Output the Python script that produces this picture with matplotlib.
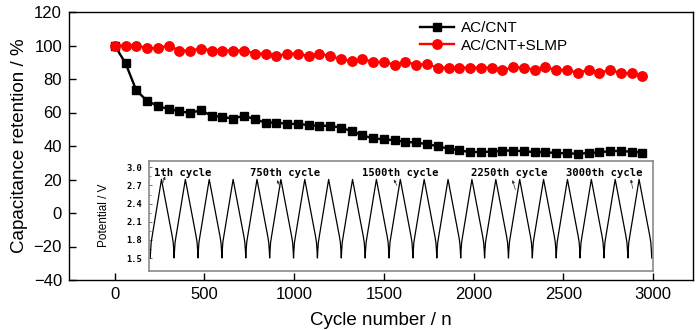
import matplotlib
matplotlib.use('Agg')
import matplotlib.pyplot as plt
import numpy as np

plt.rcParams['font.family'] = ['Liberation Sans', 'DejaVu Sans']

# ---------------- main data ----------------
cycles = list(range(0, 3000, 60))
ac_cnt = [100, 89.4, 73.2, 67.0, 63.9, 62.1, 60.7, 59.8, 61.3, 58.1,
          57.3, 56.4, 58.1, 56.0, 53.9, 54.0, 53.2, 53.2, 52.5, 51.9,
          52.2, 50.8, 49.0, 46.4, 44.5, 44.0, 43.5, 42.4, 42.1, 41.1,
          39.9, 38.4, 37.4, 36.4, 36.4, 36.6, 37.2, 37.3, 36.8, 36.4,
          36.3, 35.8, 35.6, 35.4, 35.8, 36.2, 37.0, 37.0, 36.6, 36.0]
ac_cnt_slmp = [100, 100, 100, 98.5, 98.3, 100, 97.0, 97.0, 98.2, 97.0,
               97.0, 97.0, 97.0, 95.2, 95.2, 93.6, 95.2, 95.2, 93.6, 95.2,
               93.6, 92.0, 90.6, 91.7, 90.4, 90.0, 88.6, 90.2, 88.6, 88.8,
               86.8, 86.8, 86.8, 86.8, 86.8, 86.8, 85.2, 87.0, 86.8, 85.4,
               86.9, 85.4, 85.4, 83.6, 85.4, 83.6, 85.4, 83.6, 83.4, 82.0]
series_labels = ['AC/CNT', 'AC/CNT+SLMP']
x_ticks = [0, 500, 1000, 1500, 2000, 2500, 3000]
y_ticks = [-40, -20, 0, 20, 40, 60, 80, 100, 120]

# ---------------- inset data ----------------
# one charge/discharge cycle profile (fraction of period, potential in V)
inset_phase = [0.0, 0.015, 0.04, 0.08, 0.47, 0.92, 0.96, 0.985, 1.0]
inset_volt = [1.5, 1.62, 1.76, 1.86, 2.8, 1.86, 1.76, 1.62, 1.5]
inset_cycle_index = list(range(-1, 20))   # displayed cycles
inset_yticks = [1.5, 1.8, 2.1, 2.4, 2.7, 3.0]
inset_labels = ['1th cycle', '750th cycle', '1500th cycle', '2250th cycle', '3000th cycle']
inset_label_x = [-0.84, 3.18, 7.87, 12.44, 16.40]
inset_label_y = [2.90, 2.90, 2.90, 2.90, 2.90]
arrow_head_x = [-0.38, 4.31, 9.20, 14.17, 19.13]
arrow_head_y = [2.85, 2.79, 2.80, 2.79, 2.80]
arrow_tail_x = [-0.49, 4.44, 9.33, 14.29, 19.20]
arrow_tail_y = [2.72, 2.67, 2.70, 2.63, 2.65]

fig = plt.figure(figsize=(7, 3.3), dpi=100)
ax = fig.add_axes([69/700, 1-280/330, (693-69)/700, (280-12)/330])

ax.plot(cycles, ac_cnt, '-s', color='black', ms=5.5, lw=1.7, label=series_labels[0])
ax.plot(cycles, ac_cnt_slmp, '-o', color='#ff0000', ms=6.8, lw=1.7, label=series_labels[1])

ax.set_xlim(-255, 3222)
ax.set_ylim(-40, 120)
ax.set_xticks(x_ticks)
ax.set_yticks(y_ticks)
ax.tick_params(direction='in', length=5, width=1, labelsize=12, pad=5)
for s in ax.spines.values():
    s.set_linewidth(1)
ax.set_xlabel('Cycle number / n', fontsize=13.5, labelpad=7)
ax.set_ylabel('Capacitance retention / %', fontsize=13.5, labelpad=4)

leg = ax.legend(loc='upper left', bbox_to_anchor=(420/700, 1-21/330),
                bbox_transform=fig.transFigure, frameon=False, fontsize=11,
                handlelength=2.2, handletextpad=0.45, labelspacing=0.25,
                borderpad=0, borderaxespad=0)

# ---------------- inset ----------------
axin = fig.add_axes([149.3/700, 1-270.7/330, (652.7-149.3)/700, 110/330])
t_all = []
v_all = []
for k in inset_cycle_index:
    t_all.extend([k + p for p in inset_phase])
    v_all.extend(inset_volt)
axin.plot(t_all, v_all, color='black', lw=0.9)
axin.set_xlim(-1.04, 20.04)
axin.set_ylim(1.29, 3.11)
axin.set_xticks([])
axin.set_yticks(inset_yticks)
axin.set_yticklabels(['%.1f' % v for v in inset_yticks],
                     fontfamily='DejaVu Sans Mono', fontweight='bold', fontsize=6.3)
axin.set_yticks([1.65, 1.95, 2.25, 2.55, 2.85], minor=True)
axin.tick_params(axis='y', which='major', direction='in', length=2.5, width=0.6,
                 pad=5, colors='#555555', labelcolor='black')
axin.tick_params(axis='y', which='minor', direction='in', length=1.5, width=0.5,
                 colors='#555555')
for s in axin.spines.values():
    s.set_color('#8a8a8a')
    s.set_linewidth(1.2)
axin.set_ylabel('Potential / V', fontsize=8.5)
axin.yaxis.set_label_coords(-0.078, 0.5)

for lab, lx, ly in zip(inset_labels, inset_label_x, inset_label_y):
    axin.text(lx, ly, lab, fontfamily='DejaVu Sans Mono', fontweight='bold',
              fontsize=7.6, ha='left', va='center')
for hx, hy, tx, ty in zip(arrow_head_x, arrow_head_y, arrow_tail_x, arrow_tail_y):
    axin.annotate('', xy=(hx, hy), xytext=(tx, ty),
                  arrowprops=dict(arrowstyle='-|>', lw=0.5, color='#333333',
                                  mutation_scale=4, shrinkA=0, shrinkB=0))

fig.savefig('out.png', dpi=100)
